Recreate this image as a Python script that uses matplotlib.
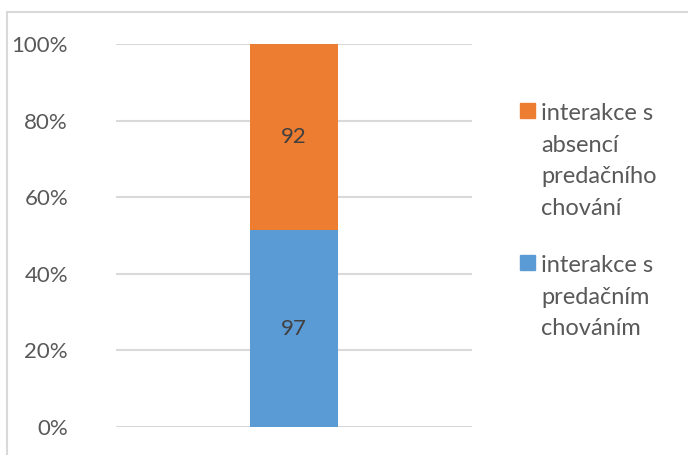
import matplotlib.pyplot as plt
import matplotlib.patches as mpatches
import matplotlib.ticker as mticker

plt.rcParams["font.family"] = ["Lato", "DejaVu Sans"]

category = [""]
series_names = [
    "interakce s\npredačním\nchováním",
    "interakce s\nabsencí\npredačního\nchování",
]
series_values = [[97], [92]]
colors = ["#5b9bd5", "#ed7d31"]
text_grey = "#595959"

totals = [sum(v[i] for v in series_values) for i in range(len(category))]

fig = plt.figure(figsize=(6.88, 4.55), dpi=100)
# chart frame like the Office chart area
fig.patches.append(mpatches.Rectangle((7 / 688, -0.1), 1.1, 1 - 12 / 455 + 0.1,
                                      transform=fig.transFigure, fill=False,
                                      edgecolor="#d9d9d9", linewidth=1.5))
ax = fig.add_axes([116 / 688, 28 / 455, 356 / 688, 383 / 455])

bottom = [0.0] * len(category)
for name, vals, col in zip(series_names, series_values, colors):
    pct = [v / t for v, t in zip(vals, totals)]
    bars = ax.bar(range(len(category)), pct, bottom=bottom, width=0.247,
                  color=col, zorder=3)
    for b, v in zip(bars, vals):
        ax.text(b.get_x() + b.get_width() / 2, b.get_y() + b.get_height() / 2,
                str(v), ha="center", va="center", fontsize=16, color="#404040",
                zorder=4)
    bottom = [b + p for b, p in zip(bottom, pct)]

ax.set_xlim(-0.5, 0.5)
ax.set_ylim(0, 1)
ax.set_yticks([0, 0.2, 0.4, 0.6, 0.8, 1.0])
ax.yaxis.set_major_formatter(mticker.FuncFormatter(lambda v, _p: f"{v * 100:.0f}%"))
ax.set_xticks([])
ax.tick_params(axis="y", length=0, pad=34.5, labelsize=16, labelcolor=text_grey)
ax.grid(axis="y", color="#d9d9d9", linewidth=1.5, zorder=0)
for s in ax.spines.values():
    s.set_visible(False)

# legend drawn by hand so the square sits at the first text line (Office style)
legend_tops = [111, 263]
for (name, col, y) in [(series_names[1], colors[1], legend_tops[0]),
                       (series_names[0], colors[0], legend_tops[1])]:
    fig.patches.append(mpatches.Rectangle((520 / 688, 1 - (y + 7) / 455), 15 / 688, 15 / 455,
                                          transform=fig.transFigure, color=col))
    fig.text(541 / 688, 1 - (y - 8) / 455, name, ha="left", va="top",
             fontsize=17, color=text_grey, linespacing=1.62)

fig.savefig("out.png", dpi=100)
